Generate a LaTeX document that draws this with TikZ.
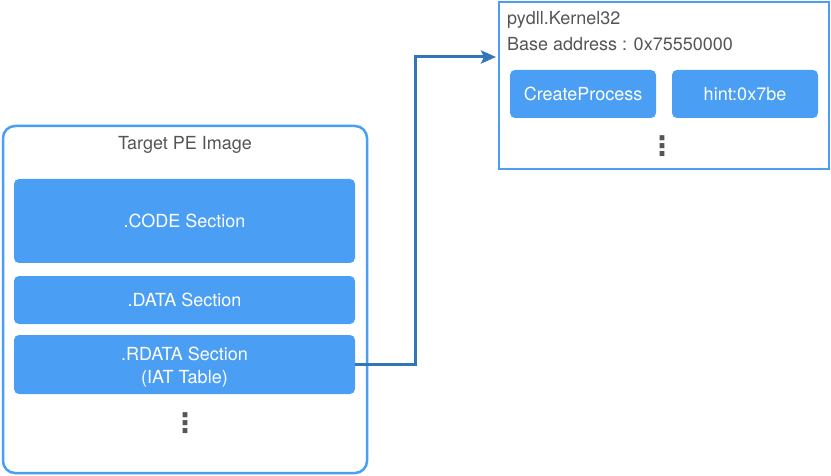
\documentclass[tikz,border=0pt]{standalone}
\usepackage{fontspec}
\setmainfont{TeX Gyre Heros}
\newfontfamily\dotfont{DejaVu Sans}
\usepackage{tikz}
\usetikzlibrary{arrows.meta, positioning, calc}

\definecolor{secblue}{RGB}{74,159,245}
\definecolor{linkblue}{RGB}{50,117,184}
\definecolor{labelgray}{RGB}{85,85,85}

\begin{document}
\begin{tikzpicture}[x=1pt, y=-1pt,
  frame/.style={draw=secblue, line width=2.5pt, rounded corners=12pt},
  section/.style={fill=secblue, rounded corners=5pt, text=white, align=center,
    font=\fontsize{18}{23}\selectfont, inner sep=0pt},
  label/.style={text=labelgray, font=\fontsize{18}{22}\selectfont, inner sep=0pt},
  moredots/.style={text=labelgray, font=\dotfont\bfseries\fontsize{27}{27}\selectfont, inner sep=0pt},
  link/.style={draw=linkblue, line width=3pt, -{Stealth[length=15pt, width=13pt, inset=3pt]}}]
\useasboundingbox (0,0) rectangle (831,476);

% Target image and its sections
\node[frame, minimum width=364pt, minimum height=347pt] (pe) at (185,299.5) {};
\node[label] (petitle) at (185,145) {Target PE Image};
\node[section, minimum width=341pt, minimum height=84pt] (code) at (184.5,221) {.CODE Section};
\node[section, minimum width=341pt, minimum height=48pt] (data) at (184.5,300) {.DATA Section};
\node[section, minimum width=341pt, minimum height=59pt] (rdata) at (184.5,364.5) {};
\node[section, fill=none] (rdatatext) at (184.5,367) {.RDATA Section\\(IAT Table)};
\node[moredots] (pedots) at (185,423) {⋮};

% Loaded dll
\node[draw=secblue, line width=2pt, minimum width=330pt, minimum height=167pt] (dll) at (664,85.5) {};
\node[label, anchor=west] (dllname) at (507,20) {pydll.Kernel32};
\node[label, anchor=west] (dllbase) at (507,44) {Base address : 0x75550000};
\node[section, minimum width=146pt, minimum height=48pt] (func) at (583,94) {CreateProcess};
\node[section, minimum width=146pt, minimum height=48pt] (hint) at (745,94) {hint:0x7be};
\node[moredots] (dlldots) at (662,146) {⋮};

% IAT entry points to the dll
\coordinate (entry) at ([yshift=28.5pt]dll.west);
\draw[link, shorten >=2pt] (rdata.east) -- (415,364.5) |- (entry);
\end{tikzpicture}
\end{document}
